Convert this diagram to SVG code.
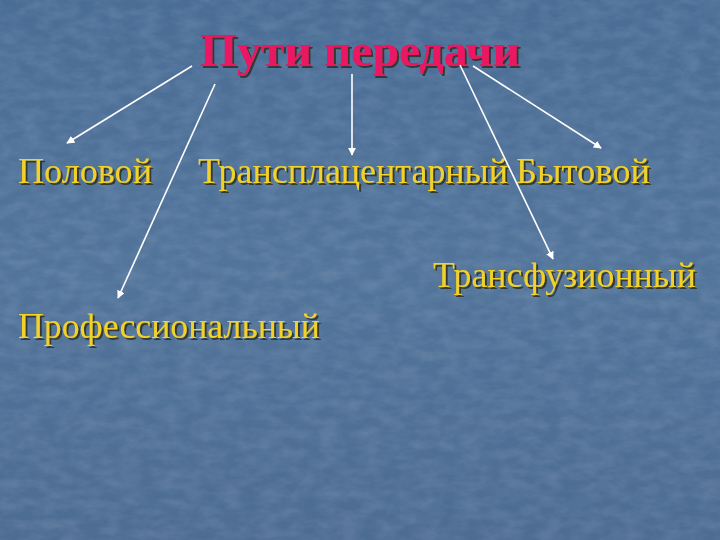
<svg xmlns="http://www.w3.org/2000/svg" width="720" height="540" viewBox="0 0 720 540">
<defs>
<linearGradient id="bg" x1="0" y1="0" x2="0" y2="1">
<stop offset="0" stop-color="#4a6d96"/>
<stop offset="0.5" stop-color="#52749a"/>
<stop offset="1" stop-color="#4d6c92"/>
</linearGradient>
<filter id="tex" x="0" y="0" width="100%" height="100%">
<feTurbulence type="fractalNoise" baseFrequency="0.05 0.1" numOctaves="4" seed="4" result="n"/>
<feColorMatrix in="n" type="matrix" values="0 0 0 0 0.8  0 0 0 0 0.88  0 0 0 0 1  0 0 0 0.4 -0.12"/>
</filter>
<filter id="ds" x="-5%" y="-20%" width="110%" height="140%">
<feDropShadow dx="2" dy="2" stdDeviation="0.6" flood-color="#2a2a1a" flood-opacity="0.8"/>
</filter>
<marker id="ah" viewBox="0 0 10 10" refX="9" refY="5" markerWidth="5" markerHeight="5" orient="auto">
<path d="M0,0 L10,5 L0,10 z" fill="#ffffff"/>
</marker>
</defs>
<style>
.t{font-family:"Liberation Serif","Times New Roman",serif;font-size:47px;font-weight:bold;fill:#ec1463;filter:url(#ds)}
.l{font-family:"Liberation Serif","Times New Roman",serif;font-size:36px;fill:#f2d22a;filter:url(#ds)}
.c line{stroke:#ffffff;stroke-width:1.6;marker-end:url(#ah)}
</style>
<rect width="720" height="540" fill="url(#bg)"/>
<rect width="720" height="540" filter="url(#tex)" opacity="0.5"/>
<g id="title">
<text class="t" x="360" y="66" text-anchor="middle" textLength="320" lengthAdjust="spacingAndGlyphs">Пути передачи</text>
</g>
<g id="n-polovoy">
<text class="l" x="18" y="183" textLength="134" lengthAdjust="spacingAndGlyphs">Половой</text>
</g>
<g id="n-transplac">
<text class="l" x="198" y="183" textLength="310" lengthAdjust="spacingAndGlyphs">Трансплацентарный</text>
</g>
<g id="n-bytovoy">
<text class="l" x="516" y="183" textLength="134" lengthAdjust="spacingAndGlyphs">Бытовой</text>
</g>
<g id="n-transfuz">
<text class="l" x="433" y="287" textLength="263" lengthAdjust="spacingAndGlyphs">Трансфузионный</text>
</g>
<g id="n-prof">
<text class="l" x="18" y="338" textLength="302" lengthAdjust="spacingAndGlyphs">Профессиональный</text>
</g>
<g id="connectors" class="c">
<line x1="192" y1="66" x2="67" y2="143"/>
<line x1="215" y1="84" x2="118" y2="298"/>
<line x1="352" y1="74" x2="352" y2="155"/>
<line x1="460" y1="65" x2="553" y2="259"/>
<line x1="473" y1="66" x2="601" y2="148"/>
</g>
</svg>
